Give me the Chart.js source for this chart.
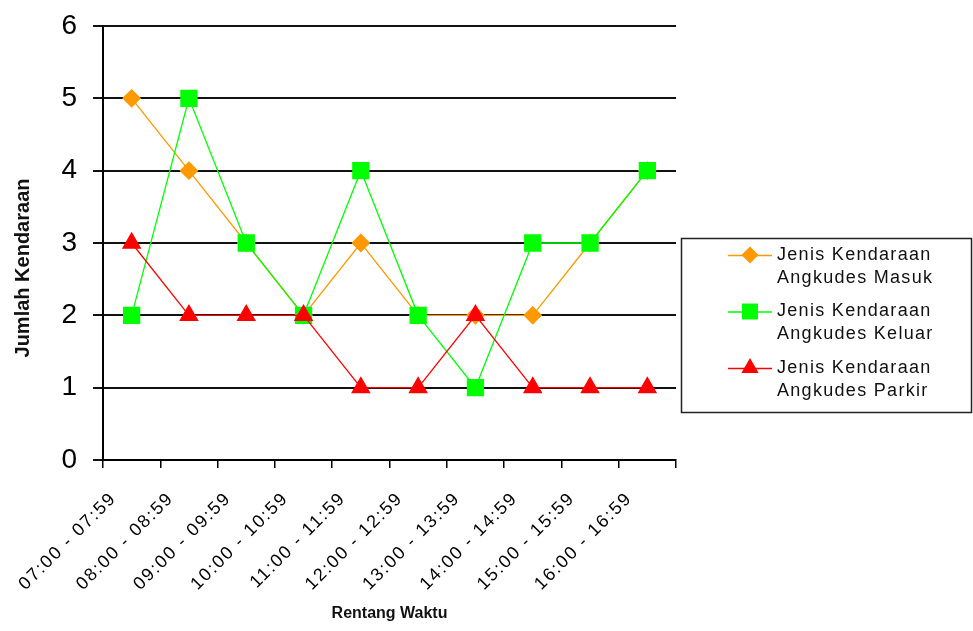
<!DOCTYPE html>
<html>
<head>
<meta charset="utf-8">
<script src="https://cdn.jsdelivr.net/npm/chart.js@4/dist/chart.umd.min.js"></script>
<style>
  html, body { margin: 0; padding: 0; background: #fff; }
  #wrap { width: 973px; height: 631px; }
</style>
</head>
<body>
<div id="wrap"><canvas id="lineChart" width="973" height="631"></canvas></div>
<script>
// data
const categories = ['07:00 - 07:59', '08:00 - 08:59', '09:00 - 09:59', '10:00 - 10:59', '11:00 - 11:59',
                    '12:00 - 12:59', '13:00 - 13:59', '14:00 - 14:59', '15:00 - 15:59', '16:00 - 16:59'];
const masuk  = [5, 4, 3, 2, 3, 2, 2, 2, 3, 4];
const keluar = [2, 5, 3, 2, 4, 2, 1, 3, 3, 4];
const parkir = [3, 2, 2, 2, 1, 1, 2, 1, 1, 1];
const yTicks = [0, 1, 2, 3, 4, 5, 6];
const seriesNames = [
    ['Jenis Kendaraan', 'Angkudes Masuk'],
    ['Jenis Kendaraan', 'Angkudes Keluar'],
    ['Jenis Kendaraan', 'Angkudes Parkir']
];
const yTitle = 'Jumlah Kendaraan';
const xTitle = 'Rentang Waktu';

const FONT = '"Liberation Sans", Arial, sans-serif';

// the old excel picture has wide-set text, so space out the x labels a bit
const spacedTicks = {
    id: 'spacedTicks',
    beforeDraw(chart) {
        const sc = chart.scales.x;
        if (sc._spaced) return;
        const orig = sc.drawLabels;
        sc.drawLabels = function (area) {
            this.ctx.save();
            this.ctx.letterSpacing = '1.8px';
            orig.call(this, area);
            this.ctx.restore();
        };
        sc._spaced = true;
    }
};

// legend box on the right + y title, drawn by hand (multi-line labels, border, off-centre title)
const boxLegend = {
    id: 'boxLegend',
    afterDraw(chart) {
        const ctx = chart.ctx;
        const x0 = 681, y0 = 238, w = 290, h = 174;
        ctx.save();
        ctx.strokeStyle = '#222';
        ctx.lineWidth = 1.5;
        ctx.strokeRect(x0 + 0.5, y0 + 0.5, w, h);

        chart.data.datasets.forEach((ds, i) => {
            const y = 255 + i * 56.5;
            ctx.strokeStyle = ds.borderColor;
            ctx.lineWidth = ds.borderWidth;
            ctx.beginPath();
            ctx.moveTo(728, y + 0.5);
            ctx.lineTo(772, y + 0.5);
            ctx.stroke();
            ctx.fillStyle = ds.backgroundColor;
            Chart.helpers.drawPoint(ctx, { pointStyle: ds.pointStyle, radius: ds.pointRadius, borderWidth: 0 }, 750, y);

            ctx.save();
            ctx.fillStyle = '#111';
            ctx.font = '18px ' + FONT;
            ctx.letterSpacing = '1.3px';
            ctx.textBaseline = 'middle';
            ctx.textAlign = 'left';
            seriesNames[i].forEach((t, k) => ctx.fillText(t, 777, y + k * 23));
            ctx.restore();
        });

        ctx.translate(23, 268);
        ctx.rotate(-Math.PI / 2);
        ctx.fillStyle = '#111';
        ctx.font = 'bold 20px ' + FONT;
        ctx.textAlign = 'center';
        ctx.textBaseline = 'middle';
        ctx.fillText(yTitle, 0, 0);
        ctx.restore();
    }
};

const ctx = document.getElementById('lineChart').getContext('2d');
const lineChart = new Chart(ctx, {
    type: 'line',
    data: {
        labels: categories,
        datasets: [
            { label: seriesNames[0].join(' '), data: masuk, borderColor: '#FF9900', backgroundColor: '#FF9900',
              pointStyle: 'rectRot', pointRadius: 8.5, borderWidth: 1.3, order: 3 },
            { label: seriesNames[1].join(' '), data: keluar, borderColor: '#00FF00', backgroundColor: '#00FF00',
              pointStyle: 'rect', pointRadius: 11.3, borderWidth: 1.3, order: 2 },
            { label: seriesNames[2].join(' '), data: parkir, borderColor: '#FF0000', backgroundColor: '#FF0000',
              pointStyle: 'triangle', pointRadius: 10, borderWidth: 1.3, order: 1 }
        ]
    },
    options: {
        responsive: false,
        animation: false,
        layout: { padding: { left: 0, top: 26, right: 297, bottom: 0 } },
        plugins: { legend: { display: false }, tooltip: { enabled: false } },
        elements: { line: { tension: 0 }, point: { borderWidth: 0 } },
        scales: {
            x: {
                offset: true,
                grid: { offset: true, drawOnChartArea: false, color: '#000', lineWidth: 1.5, tickLength: 8 },
                border: { color: '#000', width: 2 },
                ticks: { color: '#000', font: { family: FONT, size: 18 }, maxRotation: 45, minRotation: 45,
                         autoSkip: false, labelOffset: -18, padding: 20 },
                title: { display: true, text: xTitle, color: '#111',
                         font: { family: FONT, size: 16, weight: 'bold' }, padding: { bottom: 8 } },
                afterFit(scale) { scale.height = 171; }
            },
            y: {
                min: 0,
                max: 6,
                afterBuildTicks(scale) { scale.ticks = yTicks.map(v => ({ value: v })); },
                grid: { color: '#111', lineWidth: 2, tickLength: 10 },
                border: { color: '#000', width: 2 },
                ticks: { color: '#000', font: { family: FONT, size: 28 }, padding: 16 },
                afterFit(scale) {
                    scale.width = 103;
                    // big tick padding should not push the plot down
                    scale.paddingTop = 17;
                    scale.paddingBottom = 17;
                }
            }
        }
    },
    plugins: [spacedTicks, boxLegend]
});
</script>
</body>
</html>
